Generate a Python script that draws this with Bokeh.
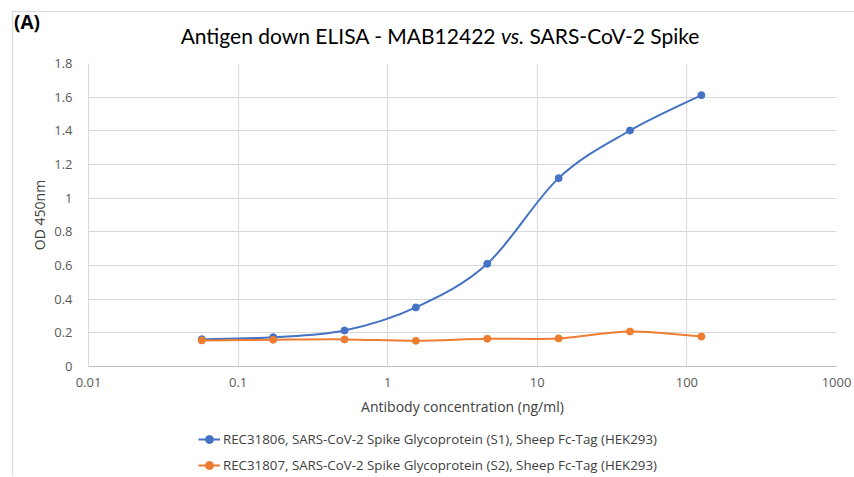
from bokeh.plotting import figure
from bokeh.layouts import column
from bokeh.models import (Range1d, FixedTicker, Legend, LegendItem, Div,
                          ColumnDataSource)
from bokeh.embed import file_html
from bokeh.resources import INLINE
import numpy as np

# ---- data ----
conc = [0.0572, 0.1715, 0.5144, 1.543, 4.630, 13.89, 41.67, 125.0]
s1_od = [0.162, 0.174, 0.214, 0.351, 0.610, 1.119, 1.402, 1.612]
s2_od = [0.155, 0.159, 0.161, 0.153, 0.165, 0.167, 0.208, 0.178]
s1_name = "REC31806, SARS-CoV-2 Spike Glycoprotein (S1), Sheep Fc-Tag (HEK293)"
s2_name = "REC31807, SARS-CoV-2 Spike Glycoprotein (S2), Sheep Fc-Tag (HEK293)"
x_ticks = [0.01, 0.1, 1, 10, 100, 1000]
x_tick_labels = ["0.01", "0.1", "1", "10", "100", "1000"]
y_ticks = [0, 0.2, 0.4, 0.6, 0.8, 1.0, 1.2, 1.4, 1.6, 1.8]
y_tick_labels = ["0", "0.2", "0.4", "0.6", "0.8", "1", "1.2", "1.4", "1.6", "1.8"]
panel_tag = "(A)"
title_left = "Antigen down ELISA - MAB12422"
title_mid = "vs."
title_right = "SARS-CoV-2 Spike"

BLUE = "#4472C4"
ORANGE = "#ED7D31"
GRID = "#d9d9d9"
TXT = "#595959"
W = 841

# ---- header (panel tag + title) as HTML ----
HH = 43
header_html = (
    f'<div style="position:relative;width:{W}px;height:{HH}px;">'
    '<div style="position:absolute;left:1px;top:0px;font-family:\'Open Sans\';'
    'font-weight:bold;font-size:19px;line-height:20px;color:#000;">'
    f'{panel_tag}</div>'
    '<div style="position:absolute;left:13px;top:12px;width:828px;'
    'text-align:center;font-family:Lato;font-size:21px;line-height:24px;'
    'color:#000;white-space:nowrap;">'
    f'{title_left} <span style="font-style:italic;font-synthesis:style;">'
    f'{title_mid}</span> {title_right}</div></div>'
)
header = Div(text=header_html, width=W, height=HH, margin=0)

# ---- main chart ----
p = figure(width=W, height=365, x_axis_type="log",
           x_range=Range1d(0.01, 1000), y_range=Range1d(0, 1.8),
           output_backend="svg", toolbar_location=None, title=None,
           min_border_left=75, min_border_right=18, min_border_top=8,
           min_border_bottom=54)
p.outline_line_color = None

xt = FixedTicker(ticks=x_ticks, minor_ticks=[])
yt = FixedTicker(ticks=y_ticks, minor_ticks=[])
p.xaxis.ticker = xt
p.yaxis.ticker = yt
p.xgrid.ticker = xt
p.ygrid.ticker = yt
p.xaxis.major_label_overrides = {t: l for t, l in zip(x_ticks, x_tick_labels)}
p.yaxis.major_label_overrides = {t: l for t, l in zip(y_ticks, y_tick_labels)}
for ax in (p.xaxis, p.yaxis):
    ax.major_tick_line_color = None
    ax.minor_tick_line_color = None
    ax.major_label_text_font = "Open Sans"
    ax.major_label_text_font_size = "13px"
    ax.major_label_text_color = TXT
    ax.axis_label_text_font = "Open Sans"
    ax.axis_label_text_font_size = "14px"
    ax.axis_label_text_font_style = "normal"
    ax.axis_label_text_color = "#404040"
p.xaxis.axis_line_color = "#bfbfbf"
p.yaxis.axis_line_color = GRID
p.xaxis.major_label_standoff = 5
p.yaxis.major_label_standoff = 10
p.xaxis.axis_label = "Antibody concentration (ng/ml)"
p.yaxis.axis_label = "OD 450nm"
p.xaxis.axis_label_standoff = 7
p.yaxis.axis_label_standoff = 2
p.xgrid.grid_line_color = GRID
p.ygrid.grid_line_color = GRID


def smooth_segments(xs, ys):
    u = np.log10(np.asarray(xs, dtype=float))
    v = np.asarray(ys, dtype=float)
    n = len(u)
    d = dict(x0=[], y0=[], x1=[], y1=[], cx0=[], cy0=[], cx1=[], cy1=[])
    for i in range(n - 1):
        im = max(i - 1, 0)
        ip = min(i + 2, n - 1)
        c0u = u[i] + (u[i + 1] - u[im]) / 6
        c0v = v[i] + (v[i + 1] - v[im]) / 6
        c1u = u[i + 1] - (u[ip] - u[i]) / 6
        c1v = v[i + 1] - (v[ip] - v[i]) / 6
        d["x0"].append(10 ** u[i]); d["y0"].append(v[i])
        d["x1"].append(10 ** u[i + 1]); d["y1"].append(v[i + 1])
        d["cx0"].append(10 ** c0u); d["cy0"].append(c0v)
        d["cx1"].append(10 ** c1u); d["cy1"].append(c1v)
    return ColumnDataSource(d)


series = ((s1_od, BLUE, s1_name), (s2_od, ORANGE, s2_name))
for ys, col, name in series:
    p.bezier(x0="x0", y0="y0", x1="x1", y1="y1", cx0="cx0", cy0="cy0",
             cx1="cx1", cy1="cy1", source=smooth_segments(conc, ys),
             line_color=col, line_width=2)
    p.scatter(conc, ys, size=7, fill_color=col, line_color=col)

# ---- legend strip (its own small plot, data kept out of view) ----
LH = 56
lf = figure(width=W, height=LH, x_range=Range1d(-2, -1), y_range=Range1d(-2, -1),
            x_axis_location=None, y_axis_location=None, min_border=0,
            output_backend="svg", toolbar_location=None, title=None)
lf.outline_line_color = None
lf.grid.grid_line_color = None
items = []
for ys, col, name in series:
    ll = lf.line(conc, ys, line_color=col, line_width=2)
    ls = lf.scatter(conc, ys, size=6, fill_color=col, line_color=col)
    items.append(LegendItem(label=name, renderers=[ll, ls]))
legend = Legend(items=items, location=(110, 1), orientation="vertical",
                border_line_color=None, background_fill_alpha=0,
                padding=0, margin=0, spacing=6, glyph_width=22,
                glyph_height=20, label_height=20, label_standoff=3,
                label_text_font="Open Sans", label_text_font_size="13.3px",
                label_text_color="#404040")
lf.add_layout(legend, "center")

layout = column(header, p, lf, spacing=0)
layout.margin = (11, 0, 0, 12)
layout.styles = {"border-top": "1px solid #d9d9d9", "border-left": "1px solid #d9d9d9"}

open("out.html", "w").write(file_html(layout, INLINE))
